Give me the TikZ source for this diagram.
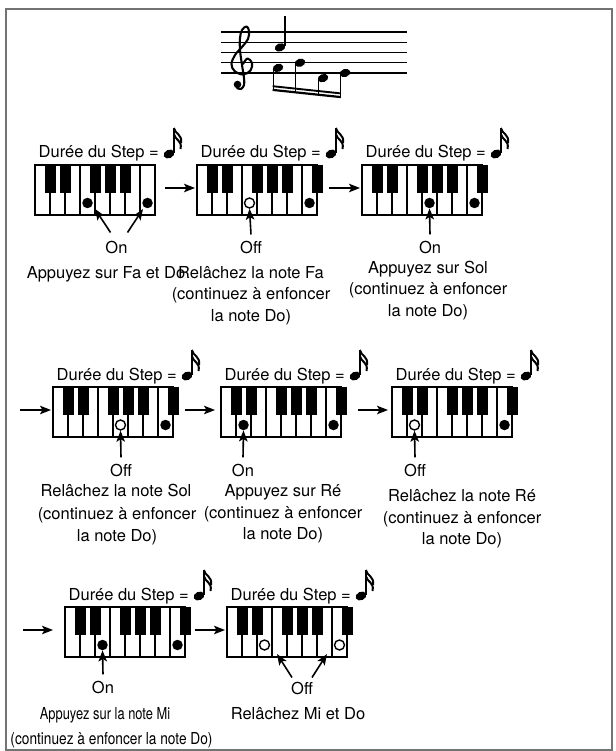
\documentclass[tikz,border=0pt]{standalone}
\usepackage{fontspec}
\setmainfont{TeX Gyre Heros}
\usepackage{graphicx}
\usetikzlibrary{arrows.meta,calc}
\tikzset{
 outerframe/.style={draw=black!55, line width=1.8pt},
 kbdbox/.style={draw, fill=white, line width=1.5pt, minimum width=120pt, minimum height=50pt, inner sep=0pt, outer sep=0pt},
 keyline/.style={line width=1.3pt},
 blackkey/.style={fill=black},
 fdot/.style={circle, fill=black, inner sep=0pt, minimum size=10.5pt},
 hdot/.style={circle, draw, fill=white, line width=1.4pt, inner sep=0pt, minimum size=10pt},
 arr/.style={-{Stealth[length=11pt,width=8.5pt,inset=2.5pt]}, line width=1.6pt},
 txt/.style={font=\fontsize{16.5}{21}\selectfont, inner sep=0pt, anchor=base},
 staffline/.style={line width=1.3pt},
}
\newcommand{\sixteenth}[2]{%
 \fill[rotate around={25:({#1},{#2})}] ({#1},{#2}) ellipse [x radius=5.6pt, y radius=4.2pt];
 \draw[line width=1.3pt] ({#1+4.9},{#2-1}) -- ({#1+4.9},{#2-26});
 \draw[line width=2pt] ({#1+4.9},{#2-26}) .. controls ({#1+5.7},{#2-20}) and ({#1+13.5},{#2-20}) .. ({#1+12},{#2-11});
 \draw[line width=2pt] ({#1+4.9},{#2-20}) .. controls ({#1+5.7},{#2-14}) and ({#1+13.5},{#2-14}) .. ({#1+11.5},{#2-5});
}
\newcommand{\kbd}[4]{%
 \node[kbdbox] (#1) at ({#2+60},{#3+25}) {};
 \foreach \i in {1,...,7} \draw[keyline] ({#2+15*\i},{#3}) -- ({#2+15*\i},{#3+50});
 \foreach \i in {1,2,4,5,6} \fill[blackkey] ({#2+15*\i-5.5},{#3}) rectangle ({#2+15*\i+5.5},{#3+28});
 \ifnum#4=1 \fill[blackkey] ({#2+114.5},{#3}) rectangle ({#2+125.5},{#3+28}); \fi
 \node[txt, anchor=base east] (#1lab) at ({#2+124},{#3-7}) {Durée du Step =};
 \sixteenth{#2+134}{#3-11}
}
\newcommand{\nhead}[2]{\fill[rotate around={20:(#1,#2)}] (#1,#2) ellipse [x radius=5.4pt, y radius=4pt];}
\begin{document}
\begin{tikzpicture}[x=1pt,y=-1pt]
\useasboundingbox (0,0) rectangle (615,751);
\draw[outerframe] (6,9) rectangle (612.3,749.6);

% staff
\foreach \k in {0,...,4} \draw[staffline] (221,{32+10.25*\k}) -- (407,{32+10.25*\k});
\draw[line width=2.1pt, line cap=round, line join=round] plot[smooth, tension=0.6] coordinates {(243,64) (247.5,58.5) (252,63) (250.5,70.5) (243,74.5) (234.5,71) (231.5,64) (235,55) (242,47) (248,39) (249,31) (246.5,26.5) (242,30) (240,38) (240,50) (242,65) (244,78) (244,85) (241,89) (237,88)};
\fill (237.5,84.5) circle (3.8pt);
\nhead{280}{47.4}
\draw[line width=1.2pt] (285,46) -- (285,16);
\nhead{278}{67.9}
\nhead{300}{62.75}
\nhead{323}{78.1}
\nhead{345}{73}
\draw[line width=1.2pt] (273.2,68.5) -- (273.2,91);
\draw[line width=1.2pt] (295.2,63.5) -- (295.2,93.3);
\draw[line width=1.2pt] (318.2,78.6) -- (318.2,95.7);
\draw[line width=1.2pt] (340.2,73.5) -- (340.2,98);
\draw[line width=2.2pt] (272.6,89.9) -- (340.8,97.1);
\draw[line width=1.9pt] (272.6,86.2) -- (340.8,93.4);

% Row 1
\kbd{k1}{35}{165}{0}
\kbd{k2}{197}{165}{1}
\kbd{k3}{362}{165}{1}
\node[fdot] (k1f) at (87.5,203) {};
\node[fdot] (k1c) at (147.5,203) {};
\node[hdot] (k2f) at (249.5,203) {};
\node[fdot] (k2c) at (309.5,203) {};
\node[fdot] (k3g) at (429.5,203) {};
\node[fdot] (k3c) at (474.5,203) {};
\draw[arr, shorten <=10pt, shorten >=2pt] ([yshift=2pt]k1.east) -- ([yshift=2pt]k2.west);
\draw[arr, shorten <=12pt, shorten >=2pt] ([yshift=2pt]k2.east) -- ([yshift=2pt]k3.west);

\node[txt] (on1) at (116.5,253) {On};
\coordinate (k1ta) at (95,209);
\coordinate (k1tb) at (143,209);
\draw[arr] ([xshift=-6pt,yshift=8pt]on1.north) -- (k1ta);
\draw[arr] ([xshift=11pt,yshift=8pt]on1.north) -- (k1tb);
\node[txt] (d1) at (106,278) {Appuyez sur Fa et Do};

\node[txt] (off2) at (251,253) {Off};
\draw[arr] ([yshift=6pt]off2.north) -- (k2f.south);
\node[txt] (d2a) at (251,278) {Relâchez la note Fa};
\node[txt] (d2b) at (251,299) {(continuez à enfoncer};
\node[txt] (d2c) at (251,321) {la note Do)};

\node[txt] (on3) at (430,253) {On};
\draw[arr] ([yshift=6pt]on3.north) -- (k3g.south);
\node[txt] (d3a) at (428,273) {Appuyez sur Sol};
\node[txt] (d3b) at (428,294) {(continuez à enfoncer};
\node[txt] (d3c) at (428,316) {la note Do)};

% Row 2
\kbd{k4}{53}{387}{1}
\kbd{k5}{221}{387}{1}
\kbd{k6}{392}{387}{1}
\node[hdot] (k4g) at (120.5,425) {};
\node[fdot] (k4c) at (165.5,425) {};
\node[fdot] (k5d) at (243.5,425) {};
\node[fdot] (k5c) at (333.5,425) {};
\node[hdot] (k6d) at (414.5,425) {};
\node[fdot] (k6c) at (504.5,425) {};
\coordinate (in4) at (20,410);
\draw[arr, shorten >=2pt] (in4) -- ([yshift=2pt]k4.west);
\draw[arr, shorten <=12pt, shorten >=6pt] ([yshift=2pt]k4.east) -- ([yshift=2pt]k5.west);
\draw[arr, shorten <=17pt, shorten >=4pt] ([yshift=2pt]k5.east) -- ([yshift=2pt]k6.west);

\node[txt] (off4) at (121,476) {Off};
\draw[arr] ([yshift=6pt]off4.north) -- (k4g.south);
\node[txt] (d4a) at (116,496) {Relâchez la note Sol};
\node[txt] (d4b) at (117,519) {(continuez à enfoncer};
\node[txt] (d4c) at (117,541) {la note Do)};

\node[txt] (on5) at (243,476) {On};
\draw[arr] ([yshift=6pt]on5.north) -- (k5d.south);
\node[txt] (d5a) at (283,496) {Appuyez sur Ré};
\node[txt] (d5b) at (283,518) {(continuez à enfoncer};
\node[txt] (d5c) at (283,539) {la note Do)};

\node[txt] (off6) at (415,476) {Off};
\draw[arr] ([yshift=6pt]off6.north) -- (k6d.south);
\node[txt] (d6a) at (462,501) {Relâchez la note Ré};
\node[txt] (d6b) at (462,523) {(continuez à enfoncer};
\node[txt] (d6c) at (462,544) {la note Do)};

% Row 3
\kbd{k7}{65}{607}{1}
\kbd{k8}{227}{607}{1}
\node[fdot] (k7e) at (102.5,645) {};
\node[fdot] (k7c) at (177.5,645) {};
\node[hdot] (k8e) at (264.5,645) {};
\node[hdot] (k8c) at (339.5,645) {};
\coordinate (in7) at (23,630);
\draw[arr, shorten >=12pt] (in7) -- ([yshift=2pt]k7.west);
\draw[arr, shorten <=10pt, shorten >=2pt] ([yshift=2pt]k7.east) -- ([yshift=2pt]k8.west);

\node[txt] (on7) at (103,693) {On};
\draw[arr] ([yshift=6pt]on7.north) -- (k7e.south);
\node[txt] (d7a) at (105,719) {\scalebox{0.78}[1]{Appuyez sur la note Mi}};
\node[txt] (d7b) at (111.5,744) {\scalebox{0.83}[1]{(continuez à enfoncer la note Do)}};

\node[txt] (off8) at (302,694) {Off};
\coordinate (k8ta) at (277,654);
\coordinate (k8tb) at (327,654);
\draw[arr] ([xshift=-10pt,yshift=4pt]off8.north) -- (k8ta);
\draw[arr] ([xshift=10pt,yshift=4pt]off8.north) -- (k8tb);
\node[txt] (d8) at (298,719) {Relâchez Mi et Do};
\end{tikzpicture}
\end{document}
